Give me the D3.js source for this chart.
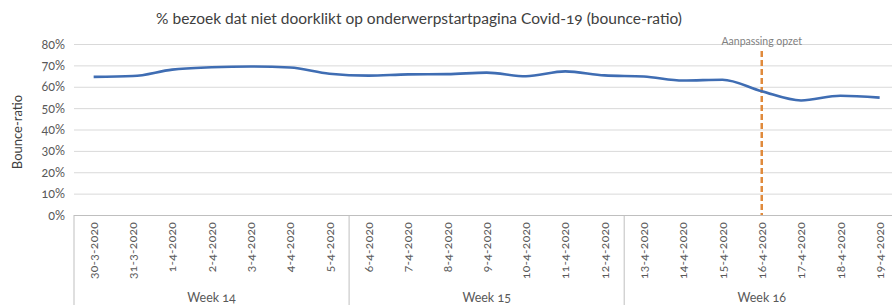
<!DOCTYPE html>
<meta charset="utf-8">
<style>
body { margin: 0; background: #fff; }
text { font-family: Lato, "Open Sans", sans-serif; font-variant-numeric: oldstyle-nums; }
</style>
<svg width="892" height="305"></svg>
<script src="https://d3js.org/d3.v7.min.js"></script>
<script>

var dates = ["30-3-2020","31-3-2020","1-4-2020","2-4-2020","3-4-2020","4-4-2020","5-4-2020",
             "6-4-2020","7-4-2020","8-4-2020","9-4-2020","10-4-2020","11-4-2020","12-4-2020",
             "13-4-2020","14-4-2020","15-4-2020","16-4-2020","17-4-2020","18-4-2020","19-4-2020"];
var bounce = [64.6, 65.0, 68.0, 69.1, 69.5, 69.0, 66.1,
              65.2, 65.8, 65.9, 66.6, 64.9, 67.2, 65.3,
              64.8, 62.9, 63.3, 57.9, 53.6, 55.8, 54.9];
var weeks = ["Week 14", "Week 15", "Week 16"];
var yTicks = [0, 10, 20, 30, 40, 50, 60, 70, 80];
var markerDate = "16-4-2020";
var markerLabel = "Aanpassing opzet";

var svg = d3.select("svg");
var plotLeft = 74, plotTop = 44, plotBottom = 215, bandW = 39.3;
var plotRight = plotLeft + bandW * dates.length;

var x = d3.scaleBand().domain(dates).range([plotLeft, plotRight]);
var y = d3.scaleLinear().domain([0, 80]).range([plotBottom, plotTop]);

// title
svg.append("text")
    .attr("x", 419).attr("y", 24)
    .attr("text-anchor", "middle")
    .attr("font-size", 15.5)
    .attr("fill", "#404040")
    .text("% bezoek dat niet doorklikt op onderwerpstartpagina Covid-19 (bounce-ratio)");

// gridlines
svg.append("g").selectAll("line").data(yTicks.slice(1)).enter().append("line")
    .attr("x1", plotLeft).attr("x2", 892)
    .attr("y1", function(d) { return y(d) + 0.5; }).attr("y2", function(d) { return y(d) + 0.5; })
    .attr("stroke", "#d9d9d9").attr("stroke-width", 1);

// y axis labels
var yAxis = svg.append("g")
    .attr("transform", "translate(" + plotLeft + ",0)")
    .call(d3.axisLeft(y).tickValues(yTicks).tickSize(0).tickPadding(9).tickFormat(function(d) { return d + "%"; }));
yAxis.select(".domain").remove();
yAxis.selectAll("text").attr("font-size", 12.5).attr("fill", "#595959").attr("font-family", "Lato, sans-serif");

svg.append("text")
    .attr("transform", "translate(22,132) rotate(-90)")
    .attr("text-anchor", "middle")
    .attr("font-size", 13)
    .attr("fill", "#404040")
    .text("Bounce-ratio");

// x axis
svg.append("line")
    .attr("x1", plotLeft).attr("x2", 892).attr("y1", plotBottom + 0.5).attr("y2", plotBottom + 0.5)
    .attr("stroke", "#bfbfbf");

var xAxis = svg.append("g")
    .attr("transform", "translate(0," + plotBottom + ")")
    .call(d3.axisBottom(x).tickSize(0).tickPadding(0));
xAxis.select(".domain").remove();
xAxis.selectAll("text")
    .attr("transform", "rotate(-90)")
    .attr("x", -7).attr("y", 0).attr("dy", "0.35em")
    .attr("text-anchor", "end")
    .attr("font-size", 12)
    .attr("letter-spacing", 0.3)
    .attr("fill", "#595959")
    .attr("font-family", "Lato, sans-serif");

// week groups
var seps = [0, 7, 14];
svg.append("g").selectAll("line").data(seps).enter().append("line")
    .attr("x1", function(d) { return x(dates[d]); }).attr("x2", function(d) { return x(dates[d]); })
    .attr("y1", plotBottom).attr("y2", 305)
    .attr("stroke", "#bfbfbf");

svg.append("g").selectAll("text").data(weeks).enter().append("text")
    .attr("x", function(d, i) { return (x(dates[i * 7]) + x(dates[i * 7 + 6]) + bandW) / 2; })
    .attr("y", 302)
    .attr("text-anchor", "middle")
    .attr("font-size", 12.5)
    .attr("fill", "#595959")
    .text(function(d) { return d; });

// marker
var mx = x(markerDate) + bandW / 2;
svg.append("line")
    .attr("x1", mx).attr("x2", mx).attr("y1", 51).attr("y2", plotBottom)
    .attr("stroke", "#e08a3c").attr("stroke-width", 2.5).attr("stroke-dasharray", "6,3");
svg.append("text")
    .attr("x", mx).attr("y", 45)
    .attr("text-anchor", "middle")
    .attr("font-size", 10.5)
    .attr("fill", "#7f7f7f")
    .text(markerLabel);

// line
var line = d3.line()
    .x(function(d, i) { return x(dates[i]) + bandW / 2; })
    .y(function(d) { return y(d); })
    .curve(d3.curveMonotoneX);

svg.append("path")
    .datum(bounce)
    .attr("d", line)
    .attr("fill", "none")
    .attr("stroke", "#3f6db3")
    .attr("stroke-width", 2.6);

</script>
